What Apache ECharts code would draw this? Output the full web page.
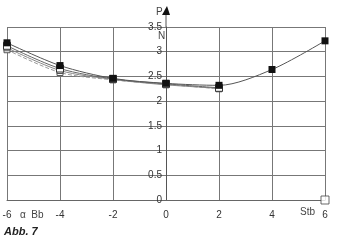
<!DOCTYPE html>
<html><head><meta charset="utf-8">
<script src="https://cdn.jsdelivr.net/npm/echarts@6/dist/echarts.min.js"></script>
<style>html,body{margin:0;padding:0;background:#fff}#c{width:339px;height:243px}</style>
</head><body><div id="c"></div>
<script>
const xValues = [-6, -4, -2, 0, 2, 4, 6];
const xShort = [-6, -4, -2, 0, 2];
const seriesFilled = [3.18, 2.72, 2.46, 2.36, 2.32, 2.64, 3.22];
const seriesB = [3.12, 2.66, 2.45, 2.35, 2.27];
const seriesC = [3.08, 2.62, 2.44, 2.33, 2.26];
const seriesD = [3.04, 2.58, 2.43, 2.34, 2.25];
const loosePoint = [[6, 0]];

const chart = echarts.init(document.getElementById('c'), null, {renderer: 'canvas'});
const pair = (xs, ys) => xs.map((x, i) => [x, ys[i]]);
const font = 'Liberation Sans, Arial, sans-serif';
chart.setOption({
  animation: false,
  grid: {left: 7, right: 14, top: 27, bottom: 43, containLabel: false, outerBoundsMode: 'none'},
  xAxis: {
    type: 'value', min: -6, max: 6, interval: 2,
    axisLine: {show: true, onZero: false, lineStyle: {color: '#666', width: 1}},
    axisTick: {show: false},
    axisLabel: {color: '#333', fontSize: 10, fontFamily: font, margin: 10},
    splitLine: {show: true, lineStyle: {color: '#777', width: 1}}
  },
  yAxis: {
    type: 'value', min: 0, max: 3.5, interval: 0.5, position: 'left',
    axisLine: {show: true, onZero: false, lineStyle: {color: '#555', width: 1}},
    axisTick: {show: false},
    axisLabel: {color: '#333', fontSize: 10, fontFamily: font, margin: 4},
    splitLine: {show: true, lineStyle: {color: '#777', width: 1}}
  },
  series: [
    {type: 'line', data: pair(xShort, seriesD), smooth: 0.3, symbol: 'rect', symbolSize: 6,
     itemStyle: {color: '#fff', borderColor: '#555', borderWidth: 1}, lineStyle: {color: '#999', width: 1, type: 'dashed'}},
    {type: 'line', data: pair(xShort, seriesC), smooth: 0.3, symbol: 'rect', symbolSize: 6,
     itemStyle: {color: '#fff', borderColor: '#555', borderWidth: 1}, lineStyle: {color: '#888', width: 1}},
    {type: 'line', data: pair(xShort, seriesB), smooth: 0.3, symbol: 'rect', symbolSize: 7,
     itemStyle: {color: '#fff', borderColor: '#333', borderWidth: 1}, lineStyle: {color: '#666', width: 1}},
    {type: 'line', data: pair(xValues, seriesFilled), smooth: 0.3, symbol: 'rect', symbolSize: 7,
     itemStyle: {color: '#111'}, lineStyle: {color: '#555', width: 1}},
    {type: 'scatter', data: loosePoint, symbol: 'rect', symbolSize: 8,
     itemStyle: {color: '#fff', borderColor: '#444', borderWidth: 1}}
  ]
});

const pTop = chart.convertToPixel({gridIndex: 0}, [0, 3.5]);
const pBot = chart.convertToPixel({gridIndex: 0}, [-6, 0]);
const pRight = chart.convertToPixel({gridIndex: 0}, [6, 0]);
const ax = pTop[0];
chart.setOption({
  yAxis: {offset: -(ax - pBot[0])},
  graphic: [
    {type: 'line', shape: {x1: ax, y1: pTop[1], x2: ax, y2: pTop[1] - 14}, style: {stroke: '#555', lineWidth: 1}},
    {type: 'polygon', shape: {points: [[ax - 4, pTop[1] - 12], [ax + 4, pTop[1] - 12], [ax + 1, pTop[1] - 21]]}, style: {fill: '#111'}},
    {type: 'text', x: ax - 10, y: pTop[1] - 20, style: {text: 'P', fill: '#444', font: '10px ' + font}},
    {type: 'text', x: ax - 8, y: pTop[1] + 4, style: {text: 'N', fill: '#444', font: '10px ' + font}},
    {type: 'text', x: pBot[0] + 13, y: pBot[1] + 10, style: {text: 'α  Bb', fill: '#444', font: '10px ' + font}},
    {type: 'text', x: pRight[0] - 25, y: pRight[1] + 7, style: {text: 'Stb', fill: '#444', font: '10px ' + font}},
    {type: 'text', x: pBot[0] - 3, y: pBot[1] + 26, style: {text: 'Abb. 7', fill: '#222', font: 'italic bold 11px ' + font}}
  ]
});
</script></body></html>
